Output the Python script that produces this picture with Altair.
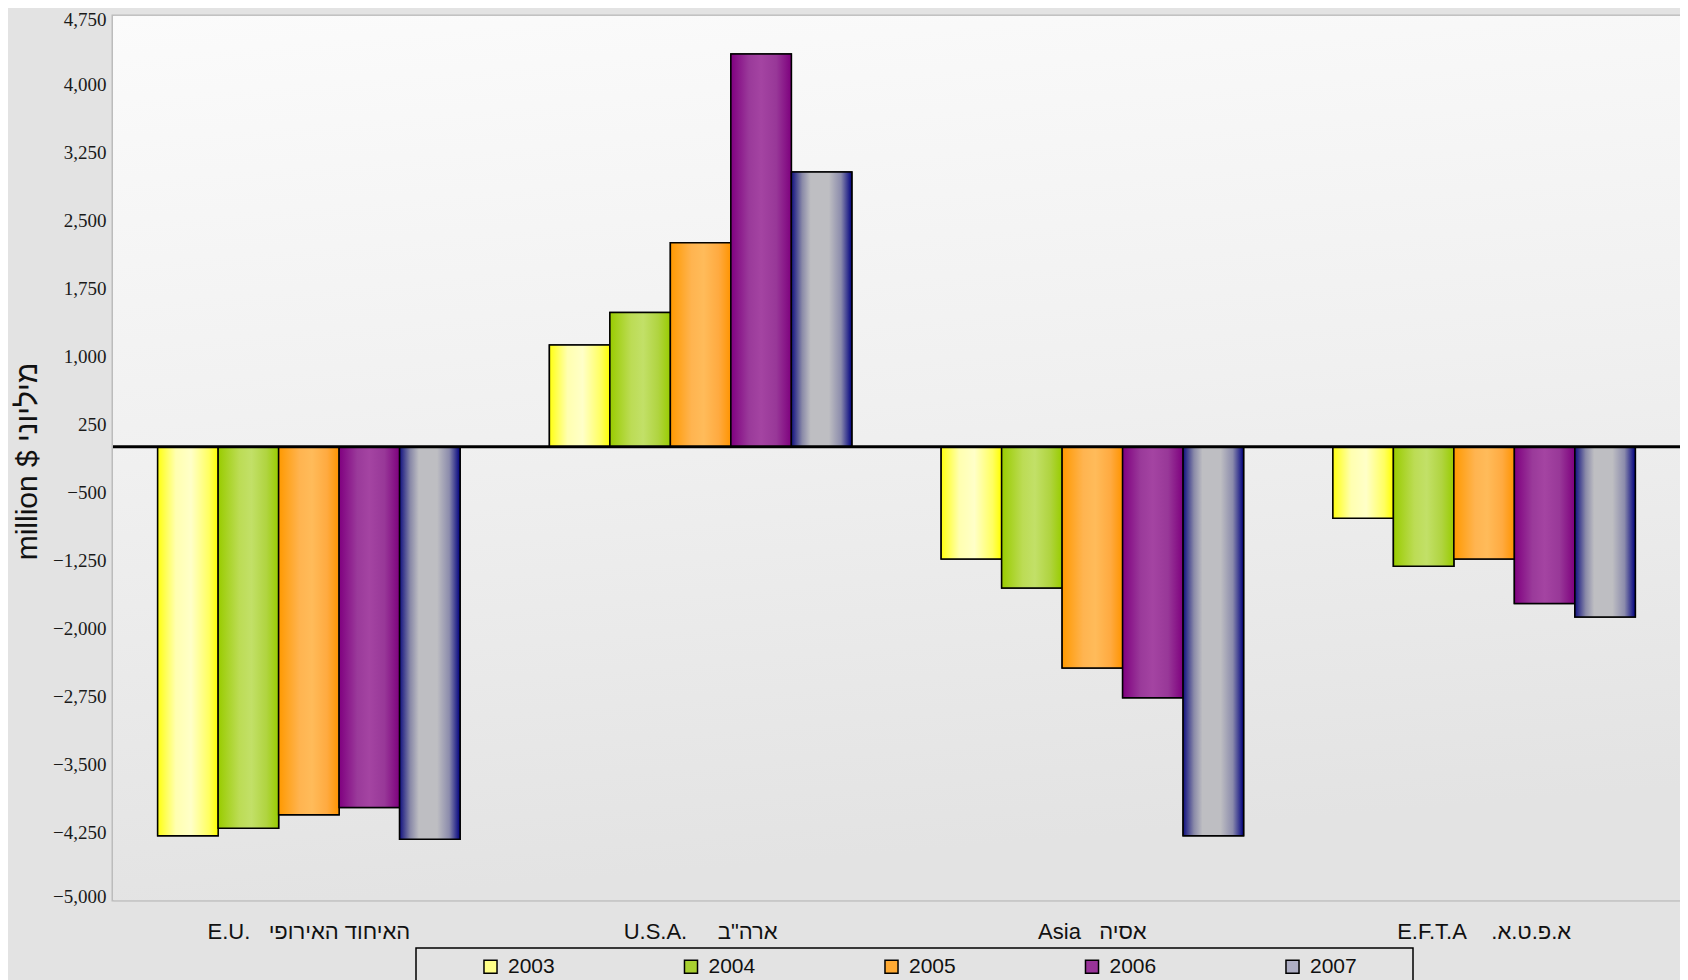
import altair as alt
import pandas as pd

NB = "\u00a0"
regions = ["E.U." + NB * 3 + "האיחוד האירופי",
           "U.S.A." + NB * 5 + "ארה\"ב",
           "Asia" + NB * 3 + "אסיה",
           "E.F.T.A" + NB * 4 + ".א.פ.ט.א"]
years = ["2003", "2004", "2005", "2006", "2007"]
values = {
    "2003": [-4290, 1120, -1240, -790],
    "2004": [-4210, 1480, -1560, -1320],
    "2005": [-4060, 2250, -2440, -1240],
    "2006": [-3980, 4330, -2770, -1730],
    "2007": [-4330, 3030, -4290, -1880],
}
y_ticks = [-5000, -4250, -3500, -2750, -2000, -1250, -500, 250, 1000, 1750, 2500, 3250, 4000, 4750]

legend_colors = ["#ffff88", "#a8d030", "#ffaa33", "#993399", "#aeaec4"]

gradients = {
    "2003": [("#ffff10", 0), ("#ffffb0", 0.3), ("#ffffc8", 0.55), ("#ffff60", 0.85), ("#ffff00", 1)],
    "2004": [("#99cc00", 0), ("#bcdc55", 0.35), ("#c2e068", 0.55), ("#b0d440", 0.8), ("#99cc00", 1)],
    "2005": [("#ff9900", 0), ("#ffb450", 0.35), ("#ffbb5a", 0.55), ("#ffaa40", 0.8), ("#ff9400", 1)],
    "2006": [("#800080", 0), ("#9a3a9a", 0.3), ("#a444a2", 0.5), ("#983898", 0.75), ("#7e007e", 1)],
    "2007": [("#101080", 0), ("#8a8aa8", 0.18), ("#bebec2", 0.32), ("#bebec2", 0.62), ("#8c8cac", 0.82), ("#000080", 1)],
}

rows = []
for y in years:
    for r, v in zip(regions, values[y]):
        rows.append({"region": r, "year": y, "value": v})
df = pd.DataFrame(rows)

W, H = 1567, 884
SANS = "Liberation Sans"

x_enc = alt.X("region:N", sort=regions,
              scale=alt.Scale(paddingInner=0.228, paddingOuter=0.114),
              axis=alt.Axis(title=None, labelAngle=0, labelFont=SANS, labelFontSize=22,
                            labelColor="#111111", labelPadding=21, domain=False, ticks=False,
                            labelLimit=400, grid=False))
xo_enc = alt.XOffset("year:N", sort=years, scale=alt.Scale(domain=years, paddingInner=0, paddingOuter=0))
y_enc = alt.Y("value:Q",
              scale=alt.Scale(domain=[-5000, 4750], nice=False, zero=False),
              axis=alt.Axis(values=y_ticks, format=",d", title="million $  מיליוני",
                            labelFont="Liberation Serif", labelFontSize=19, labelColor="#1a1a1a",
                            labelPadding=7, domain=False, ticks=False,
                            labelFlush=True, labelFlushOffset=6,
                            gridColor="#c8c8c8", gridWidth=2,
                            titleFont=SANS, titleFontSize=30, titleFontWeight="normal",
                            titleColor="#111111", titleAngle=-90, titleX=-86, titleY=445,
                            titleAlign="center", titleBaseline="middle"))

one = pd.DataFrame({"a": [0]})

bg = alt.Chart(one).mark_rect(
    color=alt.LinearGradient(gradient="linear", x1=0, y1=0, x2=0.15, y2=1,
                             stops=[alt.GradientStop(color="#fbfbfb", offset=0),
                                    alt.GradientStop(color="#f0f0f0", offset=0.5),
                                    alt.GradientStop(color="#e3e3e3", offset=1)])
).encode(x=alt.value(0), x2=alt.value("width"), y=alt.value(0), y2=alt.value("height"))

base_bars = alt.Chart(df).mark_bar(stroke="black", strokeWidth=1.5).encode(
    x=x_enc, xOffset=xo_enc, y=y_enc, y2=alt.datum(0),
    color=alt.Color("year:N", sort=years,
                    scale=alt.Scale(domain=years, range=legend_colors),
                    legend=alt.Legend(title=None, orient="none", legendX=367, legendY=940,
                                      direction="horizontal", columns=5, columnPadding=125.5,
                                      symbolType="square", symbolSize=170,
                                      symbolStrokeColor="black", symbolStrokeWidth=1.5,
                                      symbolOpacity=1,
                                      labelFont=SANS, labelFontSize=21, labelColor="#111111",
                                      labelOffset=7, padding=0)),
)

grad_layers = []
for y in years:
    stops = [alt.GradientStop(color=c, offset=o) for c, o in gradients[y]]
    grad_layers.append(
        alt.Chart(df).transform_filter(alt.datum.year == y).mark_bar(
            stroke="black", strokeWidth=1.5,
            color=alt.LinearGradient(gradient="linear", x1=0, y1=0, x2=1, y2=0, stops=stops)
        ).encode(x=x_enc, xOffset=xo_enc, y=y_enc, y2=alt.datum(0))
    )

zero = alt.Chart(one).mark_rule(color="black", strokeWidth=3).encode(y=alt.datum(0))

legend_box = alt.Chart(one).mark_rect(fill=None, stroke="black", strokeWidth=1.5).encode(
    x=alt.value(303), x2=alt.value(1300), y=alt.value(932), y2=alt.value(1000)
)

chart = alt.layer(bg, base_bars, *grad_layers, zero, legend_box).properties(
    width=W, height=H,
    autosize=alt.AutoSizeParams(type="none"),
    padding={"left": 105, "top": 8, "right": 0, "bottom": 80},
    background="#e3e3e3",
).configure_view(stroke="#bcbcbc", strokeWidth=3)

chart.save("out.html", embed_options={"renderer": "svg", "actions": False})
